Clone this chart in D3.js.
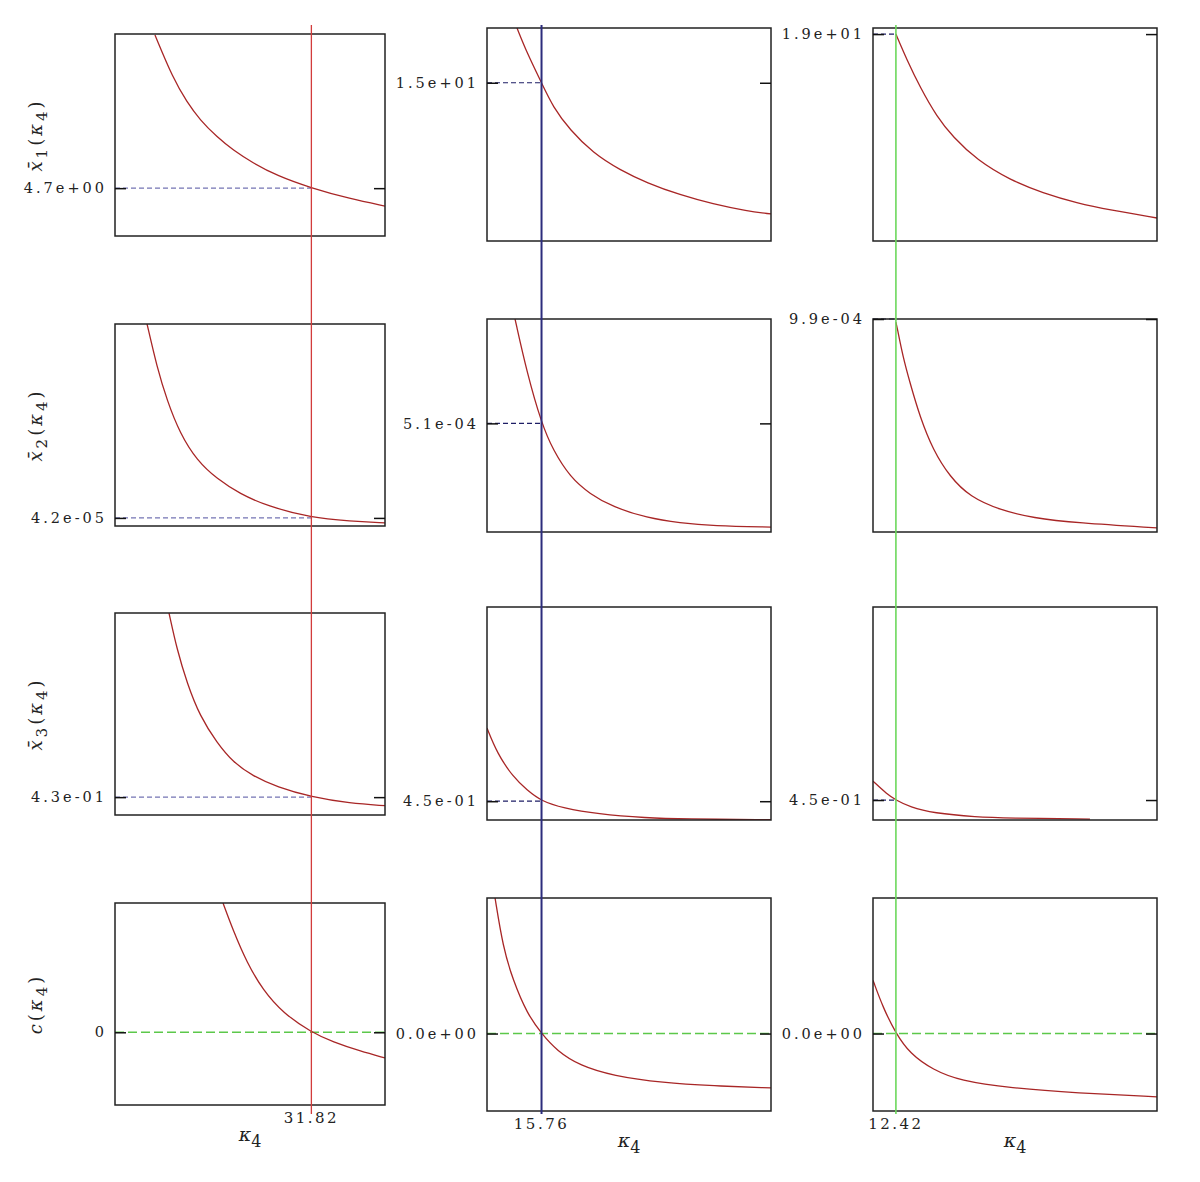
<!DOCTYPE html>
<html>
<head>
<meta charset="utf-8">
<script src="https://cdn.jsdelivr.net/npm/d3@7"></script>
<style>
  body { margin: 0; background: #fff; }
  text { font-family: "DejaVu Serif", serif; fill: #222; }
</style>
</head>
<body>
<svg width="1200" height="1182"></svg>
<script>
// kappa_4 range is the same in every column
var kappaRange = [10, 40];
var roots = [31.82, 15.76, 12.42];
var rootLabels = ["31.82", "15.76", "12.42"];

// one tick per panel: rows are x1, x2, x3, c
var tickValues = [
  [4.7, 4.2e-5, 0.43, 0],
  [15, 5.1e-4, 0.45, 0],
  [19, 9.9e-4, 0.45, 0]
];
var tickLabels = [
  ["4.7e+00", "4.2e-05", "4.3e-01", "0"],
  ["1.5e+01", "5.1e-04", "4.5e-01", "0.0e+00"],
  ["1.9e+01", "9.9e-04", "4.5e-01", "0.0e+00"]
];
var yDomains = [
  [[2, 13.4], [0, 1.05e-3], [0.2, 2.8], [-0.36, 0.64]],
  [[2, 19.5], [0, 1.0e-3], [0.3, 2.0], [-0.4, 0.7]],
  [[2, 19.5], [0, 9.9e-4], [0.3, 1.9], [-0.4, 0.7]]
];

// curves [kappa4, value]
var x1A = [[14.44, 13.34], [16.44, 10.9], [18.0, 9.55], [19.44, 8.55], [21.33, 7.59], [23.11, 6.85],
           [25.33, 6.12], [28.0, 5.4], [31.82, 4.7], [36.11, 4.1], [40, 3.69]];
var x2A = [[13.56, 10.5e-4], [14.67, 8.25e-4], [15.78, 6.53e-4], [17.22, 4.81e-4], [19.11, 3.40e-4],
           [21.33, 2.45e-4], [23.89, 1.67e-4], [26.89, 1.04e-4], [31.82, 0.42e-4], [36.11, 0.26e-4], [40, 0.16e-4]];
var x3A = [[16.0, 2.8], [16.89, 2.33], [18.0, 1.9], [19.44, 1.47], [21.33, 1.13], [23.11, 0.88],
           [25.33, 0.70], [28.0, 0.56], [31.82, 0.43], [36.11, 0.35], [40, 0.32]];
var cA  = [[22.0, 0.64], [23.11, 0.506], [24.67, 0.343], [26.44, 0.209], [28.67, 0.095], [31.82, 0],
           [34.22, -0.048], [37.22, -0.093], [40, -0.127]];

var x1B = [[13.17, 19.5], [14.23, 17.45], [15.76, 15.0], [16.97, 13.01], [18.77, 11.12], [21.2, 9.23],
           [24.05, 7.83], [26.9, 6.77], [30.39, 5.78], [33.87, 5.04], [37.46, 4.46], [40, 4.22]];
var x2B = [[12.96, 10.0e-4], [14.23, 7.47e-4], [15.76, 5.1e-4], [16.97, 3.85e-4], [18.77, 2.58e-4],
           [20.88, 1.78e-4], [23.31, 1.17e-4], [26.9, 0.66e-4], [30.39, 0.42e-4], [33.87, 0.28e-4], [40, 0.23e-4]];
var x3B = [[10, 1.034], [11.06, 0.835], [12.75, 0.643], [14.23, 0.539], [15.76, 0.45], [18.03, 0.396],
           [21.62, 0.348], [26.9, 0.316], [30.7, 0.308], [40, 0.302]];
var cB  = [[10.85, 0.70], [11.69, 0.446], [12.75, 0.275], [14.23, 0.103], [15.76, 0], [17.39, -0.089],
           [19.82, -0.166], [23.31, -0.218], [28.59, -0.255], [33.87, -0.27], [40, -0.281]];

var x1C = [[12.42, 19.0], [13.59, 16.87], [14.96, 14.65], [16.76, 12.19], [18.45, 10.54], [20.99, 8.65],
           [24.47, 7.01], [27.96, 5.94], [31.55, 5.12], [35.03, 4.55], [40, 3.89]];
var x2C = [[12.42, 9.75e-4], [12.54, 9.53e-4], [13.17, 8.13e-4], [13.91, 6.93e-4], [14.96, 5.35e-4],
           [16.34, 3.81e-4], [18.13, 2.56e-4], [20.25, 1.63e-4], [23.42, 1.02e-4], [26.9, 0.65e-4],
           [31.55, 0.42e-4], [40, 0.19e-4]];
var x3C = [[10, 0.592], [11.48, 0.494], [12.42, 0.45], [13.91, 0.397], [16.34, 0.352], [20.99, 0.322],
           [24.15, 0.315], [32.92, 0.307]];
var cC  = [[10, 0.275], [11.06, 0.134], [12.42, 0], [13.91, -0.104], [16.34, -0.188], [19.19, -0.244],
           [24.47, -0.281], [31.55, -0.307], [40, -0.327]];

var curves = [[x1A, x2A, x3A, cA], [x1B, x2B, x3B, cB], [x1C, x2C, x3C, cC]];

// layout
var cols = [
  {left: 115, width: 270, tops: [34, 324, 613, 903], height: 202},
  {left: 487, width: 284, tops: [28, 319, 607, 898], height: 213},
  {left: 873, width: 284, tops: [28, 319, 607, 898], height: 213}
];
var rootColors = ["#d23c3c", "#2c2c7c", "#6cd85c"];
var rootWidths = [1.3, 2, 1.6];
var dashColors = ["#7474b4", "#1e1e66", "#1e1e66"];

var svg = d3.select("svg");

cols.forEach(function(col, ci) {
  var x = d3.scaleLinear().domain(kappaRange).range([0, col.width]);

  col.tops.forEach(function(top, ri) {
    var h = col.height;
    var y = d3.scaleLinear().domain(yDomains[ci][ri]).range([h, 0]);
    var g = svg.append("g").attr("transform", "translate(" + col.left + "," + top + ")");
    var clipId = "clip" + ci + ri;

    g.append("clipPath").attr("id", clipId)
      .append("rect").attr("width", col.width).attr("height", h);

    var tv = tickValues[ci][ri];

    // guide: dashed from the left edge to the root (green, full width on c)
    if (ri < 3) {
      g.append("line")
        .attr("x1", 0).attr("x2", x(roots[ci]))
        .attr("y1", y(tv)).attr("y2", y(tv))
        .attr("stroke", dashColors[ci]).attr("stroke-width", 1.2)
        .attr("stroke-dasharray", "5,3");
    } else {
      g.append("line")
        .attr("x1", 0).attr("x2", col.width)
        .attr("y1", y(tv)).attr("y2", y(tv))
        .attr("stroke", "#5cc84a").attr("stroke-width", 1.4)
        .attr("stroke-dasharray", "9,4");
    }

    var line = d3.line()
      .x(function(d) { return x(d[0]); })
      .y(function(d) { return y(d[1]); })
      .curve(d3.curveBasis);

    g.append("path")
      .datum(curves[ci][ri])
      .attr("clip-path", "url(#" + clipId + ")")
      .attr("fill", "none")
      .attr("stroke", "#a82626")
      .attr("stroke-width", 1.3)
      .attr("d", line);

    // frame
    g.append("rect")
      .attr("width", col.width).attr("height", h)
      .attr("fill", "none").attr("stroke", "#222").attr("stroke-width", 1.5);

    // left tick with label, right tick without
    var axL = g.append("g")
      .call(d3.axisLeft(y).tickValues([tv]).tickFormat(function() { return tickLabels[ci][ri]; })
        .tickSize(-11).tickSizeOuter(0).tickPadding(8));
    var axR = g.append("g")
      .attr("transform", "translate(" + col.width + ",0)")
      .call(d3.axisRight(y).tickValues([tv]).tickFormat("").tickSize(-11).tickSizeOuter(0));

    [axL, axR].forEach(function(ax) {
      ax.select(".domain").remove();
      ax.selectAll("line").attr("stroke", "#111").attr("stroke-width", 1.5);
    });
    axL.selectAll("text")
      .attr("font-family", "DejaVu Serif")
      .attr("font-size", 14.5)
      .attr("letter-spacing", "3px")
      .attr("fill", "#222");
  });

  var bottom = col.tops[3] + col.height;

  // vertical root line across the column
  svg.append("line")
    .attr("x1", col.left + x(roots[ci])).attr("x2", col.left + x(roots[ci]))
    .attr("y1", 25).attr("y2", 1114)
    .attr("stroke", rootColors[ci]).attr("stroke-width", rootWidths[ci]);

  svg.append("text")
    .attr("x", col.left + x(roots[ci])).attr("y", bottom + 18)
    .attr("text-anchor", "middle")
    .attr("font-size", 15).attr("letter-spacing", "2.5px")
    .text(rootLabels[ci]);

  var xl = svg.append("text")
    .attr("x", col.left + col.width / 2).attr("y", bottom + 36)
    .attr("text-anchor", "middle")
    .attr("font-size", 19);
  xl.append("tspan").attr("font-style", "italic").text("κ");
  xl.append("tspan").attr("font-size", 16).attr("dy", 6).text("4");
});

// row titles on the left
var rowNames = [["x\u0304", "1"], ["x\u0304", "2"], ["x\u0304", "3"], ["c", null]];
rowNames.forEach(function(rn, ri) {
  var cy = cols[0].tops[ri] + cols[0].height / 2;
  var t = svg.append("text")
    .attr("transform", "translate(42," + cy + ") rotate(-90)")
    .attr("text-anchor", "middle")
    .attr("font-size", 18)
    .attr("letter-spacing", "3px");
  t.append("tspan").attr("font-style", "italic").text(rn[0]);
  if (rn[1]) t.append("tspan").attr("font-size", 15).attr("dy", 5).text(rn[1]);
  t.append("tspan").attr("dy", rn[1] ? -5 : 0).text("(");
  t.append("tspan").attr("font-style", "italic").text("κ");
  t.append("tspan").attr("font-size", 15).attr("dy", 5).text("4");
  t.append("tspan").attr("dy", -5).text(")");
});
</script>
</body>
</html>
